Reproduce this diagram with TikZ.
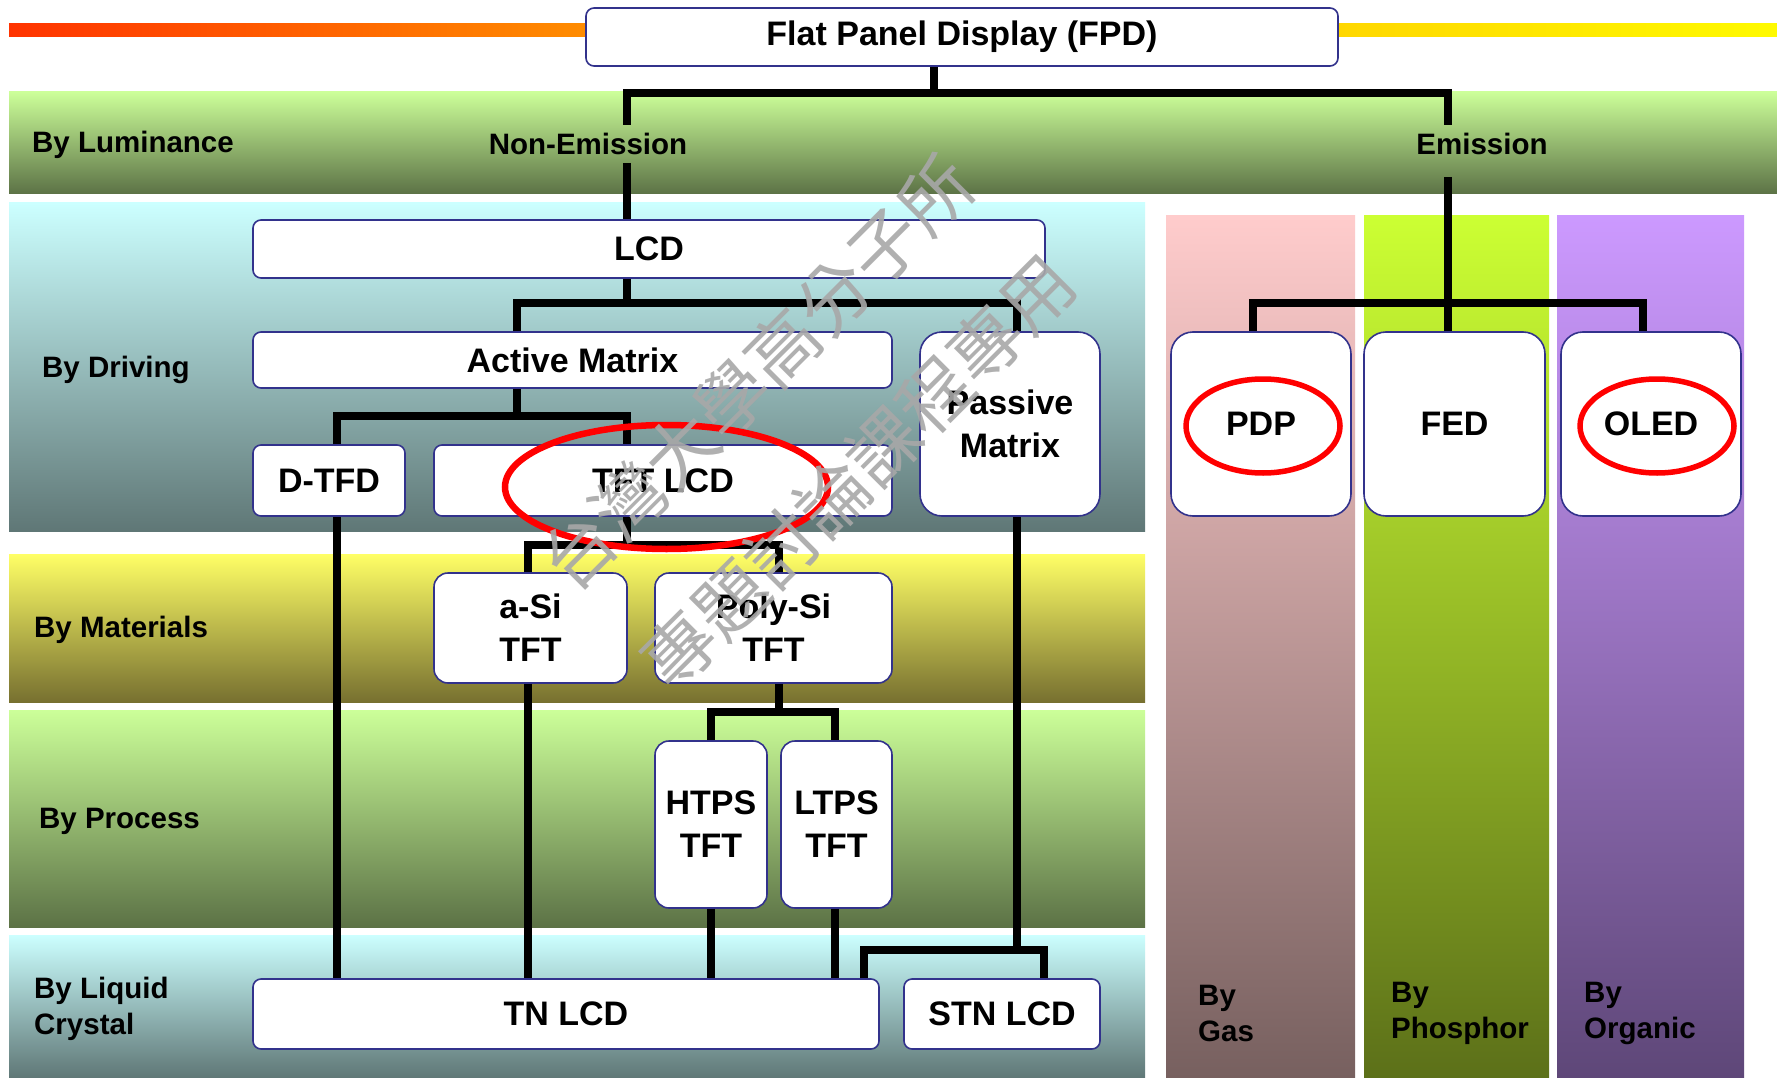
\documentclass[tikz,border=0pt]{standalone}
\usepackage{fontspec}
\setmainfont{Liberation Sans}
\newfontfamily\cjkwm{Noto Sans CJK TC}
\definecolor{navyb}{RGB}{50,50,140}
\definecolor{lumtop}{RGB}{204,255,153}
\definecolor{lumbot}{RGB}{92,114,70}
\definecolor{cyantop}{RGB}{204,255,255}
\definecolor{cyanbot}{RGB}{95,119,118}
\definecolor{mattop}{RGB}{255,255,102}
\definecolor{matbot}{RGB}{119,112,48}
\definecolor{gastop}{RGB}{255,204,204}
\definecolor{gasbot}{RGB}{119,96,95}
\definecolor{photop}{RGB}{204,255,51}
\definecolor{phobot}{RGB}{92,112,25}
\definecolor{orgtop}{RGB}{204,153,255}
\definecolor{orgbot}{RGB}{94,71,120}
\definecolor{wmgray}{RGB}{168,168,168}
\newcommand\nodefnt{\fontsize{34}{43}\selectfont\bfseries}
\newcommand\bandfnt{\fontsize{29.5}{36}\selectfont\bfseries}
\begin{document}
\begin{tikzpicture}[x=1pt,y=-1pt,
  box/.style={draw=navyb, line width=1.6pt, fill=white, rounded corners=8pt, font=\nodefnt, align=center, inner sep=0pt},
  tallbox/.style={box, rounded corners=22pt},
  midbox/.style={box, rounded corners=14pt},
  conn/.style={line width=8pt, black},
  ring/.style={draw=red, line width=6.5pt},
  blabel/.style={font=\bandfnt, anchor=west, align=left, inner sep=0pt},
  clabel/.style={font=\bandfnt, anchor=center, inner sep=0pt},
  wm/.style={font={\cjkwm\fontsize{72}{72}\selectfont}, text=wmgray, inner sep=0pt, opacity=0.9}]
\useasboundingbox (0,0) rectangle (1777,1078);
\fill[white] (0,0) rectangle (1777,1078);
% top bars
\shade[left color={rgb,255:red,255;green,51;blue,0}, right color={rgb,255:red,255;green,140;blue,0}] (9,24) rectangle (586,37);
\shade[left color={rgb,255:red,255;green,215;blue,0}, right color={rgb,255:red,255;green,250;blue,0}] (1338,24) rectangle (1777,37);
% bands
\shade[top color=lumtop, bottom color=lumbot] (9,92) rectangle (1777,194);
\shade[top color=cyantop, bottom color=cyanbot] (9,203) rectangle (1145,531);
\shade[top color=mattop, bottom color=matbot] (9,554) rectangle (1145,702);
\shade[top color=lumtop, bottom color=lumbot] (9,710) rectangle (1145,927);
\shade[top color=cyantop, bottom color=cyanbot] (9,935) rectangle (1145,1078);
\shade[top color=gastop, bottom color=gasbot] (1166,216) rectangle (1355,1078);
\shade[top color=photop, bottom color=phobot] (1364,216) rectangle (1549,1078);
\shade[top color=orgtop, bottom color=orgbot] (1557,216) rectangle (1744,1078);
% band labels
\node[blabel] (lum) at (32,145) {By Luminance};
\node[blabel] (drv) at (42,370) {By Driving};
\node[blabel] (mat) at (34,630) {By Materials};
\node[blabel] (pro) at (39,821) {By Process};
\node[blabel] (liq) at (34,1009) {By Liquid\\Crystal};
\node[blabel] (gas) at (1198,1013) {By\\Gas};
\node[blabel] (pho) at (1391,1013) {By\\Phosphor};
\node[blabel] (org) at (1584,1013) {By\\Organic};
\node[clabel] (nonem) at (588,144) {Non-Emission};
\node[clabel] (em) at (1482,144) {Emission};
% nodes
\node[box, minimum width=752pt, minimum height=58pt] (fpd) at (962,37) {Flat Panel Display (FPD)};
\node[box, minimum width=792pt, minimum height=58pt] (lcd) at (649,249) {LCD};
\node[box, minimum width=639pt, minimum height=56pt] (active) at (572.5,360) {Active Matrix};
\node[tallbox, minimum width=180pt, minimum height=184pt] (passive) at (1010,424) {Passive\\Matrix};
\node[box, minimum width=152pt, minimum height=71pt] (dtfd) at (329,480.5) {D-TFD};
\node[box, minimum width=458pt, minimum height=71pt] (tftlcd) at (663,480.5) {TFT LCD};
\node[midbox, minimum width=193pt, minimum height=110pt] (asi) at (530.5,628) {a-Si\\TFT};
\node[midbox, minimum width=237pt, minimum height=110pt] (polysi) at (773.5,628) {Poly-Si\\TFT};
\node[midbox, minimum width=112pt, minimum height=167pt] (htps) at (711,824.5) {HTPS\\TFT};
\node[midbox, minimum width=111pt, minimum height=167pt] (ltps) at (836.5,824.5) {LTPS\\TFT};
\node[box, minimum width=626pt, minimum height=70pt] (tnlcd) at (566,1014) {TN LCD};
\node[box, minimum width=196pt, minimum height=70pt] (stnlcd) at (1002,1014) {STN LCD};
\node[tallbox, minimum width=180pt, minimum height=184pt] (pdp) at (1261,424) {PDP};
\node[tallbox, minimum width=181pt, minimum height=184pt] (fed) at (1454.5,424) {FED};
\node[tallbox, minimum width=180pt, minimum height=184pt] (oled) at (1651,424) {OLED};
% junction coordinates
\coordinate (jF) at (934,93);
\coordinate (ne1) at (627,125);
\coordinate (ne2) at (627,163);
\coordinate (em1) at (1448,125);
\coordinate (em2) at (1448,177);
\coordinate (jE) at (1448,303);
\coordinate (jP) at (1253,303);
\coordinate (jO) at (1643,303);
\coordinate (jL) at (627,303);
\coordinate (jA) at (517,303);
\coordinate (jPM) at (1017,303);
\coordinate (kA) at (517,416);
\coordinate (kD) at (337,416);
\coordinate (kT) at (627,416);
\coordinate (mT) at (627,545);
\coordinate (mA) at (528,545);
\coordinate (mP) at (779,545);
\coordinate (nP) at (779,712);
\coordinate (nH) at (711,712);
\coordinate (nL) at (835,712);
\coordinate (pJ) at (1017,950);
\coordinate (pT) at (864,950);
\coordinate (pS) at (1044,950);
% connectors
\draw[conn] (jF |- fpd.south) -- (jF);
\draw[conn] (ne1) |- (jF) -| (em1);
\draw[conn] (ne2) -- (ne2 |- lcd.north);
\draw[conn] (em2) -- (jE |- fed.north);
\draw[conn] (jP |- pdp.north) -- (jP) -- (jO) -- (jO |- oled.north);
\draw[conn] (jL |- lcd.south) -- (jL);
\draw[conn] (jA |- active.north) -- (jA) -- (jPM) -- (jPM |- passive.north);
\draw[conn] (kA |- active.south) -- (kA);
\draw[conn] (kD |- dtfd.north) -- (kD) -- (kT) -- (kT |- tftlcd.north);
\draw[conn] (mT |- tftlcd.south) -- (mT);
\draw[conn] (mA |- asi.north) -- (mA) -- (mP) -- (mP |- polysi.north);
\draw[conn] (nP |- polysi.south) -- (nP);
\draw[conn] (nH |- htps.north) -- (nH) -- (nL) -- (nL |- ltps.north);
\draw[conn] (kD |- dtfd.south) -- (kD |- tnlcd.north);
\draw[conn] (mA |- asi.south) -- (mA |- tnlcd.north);
\draw[conn] (nH |- htps.south) -- (nH |- tnlcd.north);
\draw[conn] (nL |- ltps.south) -- (nL |- tnlcd.north);
\draw[conn] (pJ |- passive.south) -- (pJ);
\draw[conn] (pT |- tnlcd.north) -- (pT) -- (pS) -- (pS |- stnlcd.north);
% red rings
\draw[ring] (666.5,487) ellipse [x radius=161.5, y radius=62];
\draw[ring, line width=5.5pt] (1263,426) ellipse [x radius=77, y radius=47];
\draw[ring, line width=5.5pt] (1657,426) ellipse [x radius=77, y radius=47];
% watermark
\node[wm, rotate=45] (wm1) at (757,373) {台灣大學高分子所};
\node[wm, rotate=45] (wm2) at (858,472) {專題討論課程專用};
\end{tikzpicture}
\end{document}
